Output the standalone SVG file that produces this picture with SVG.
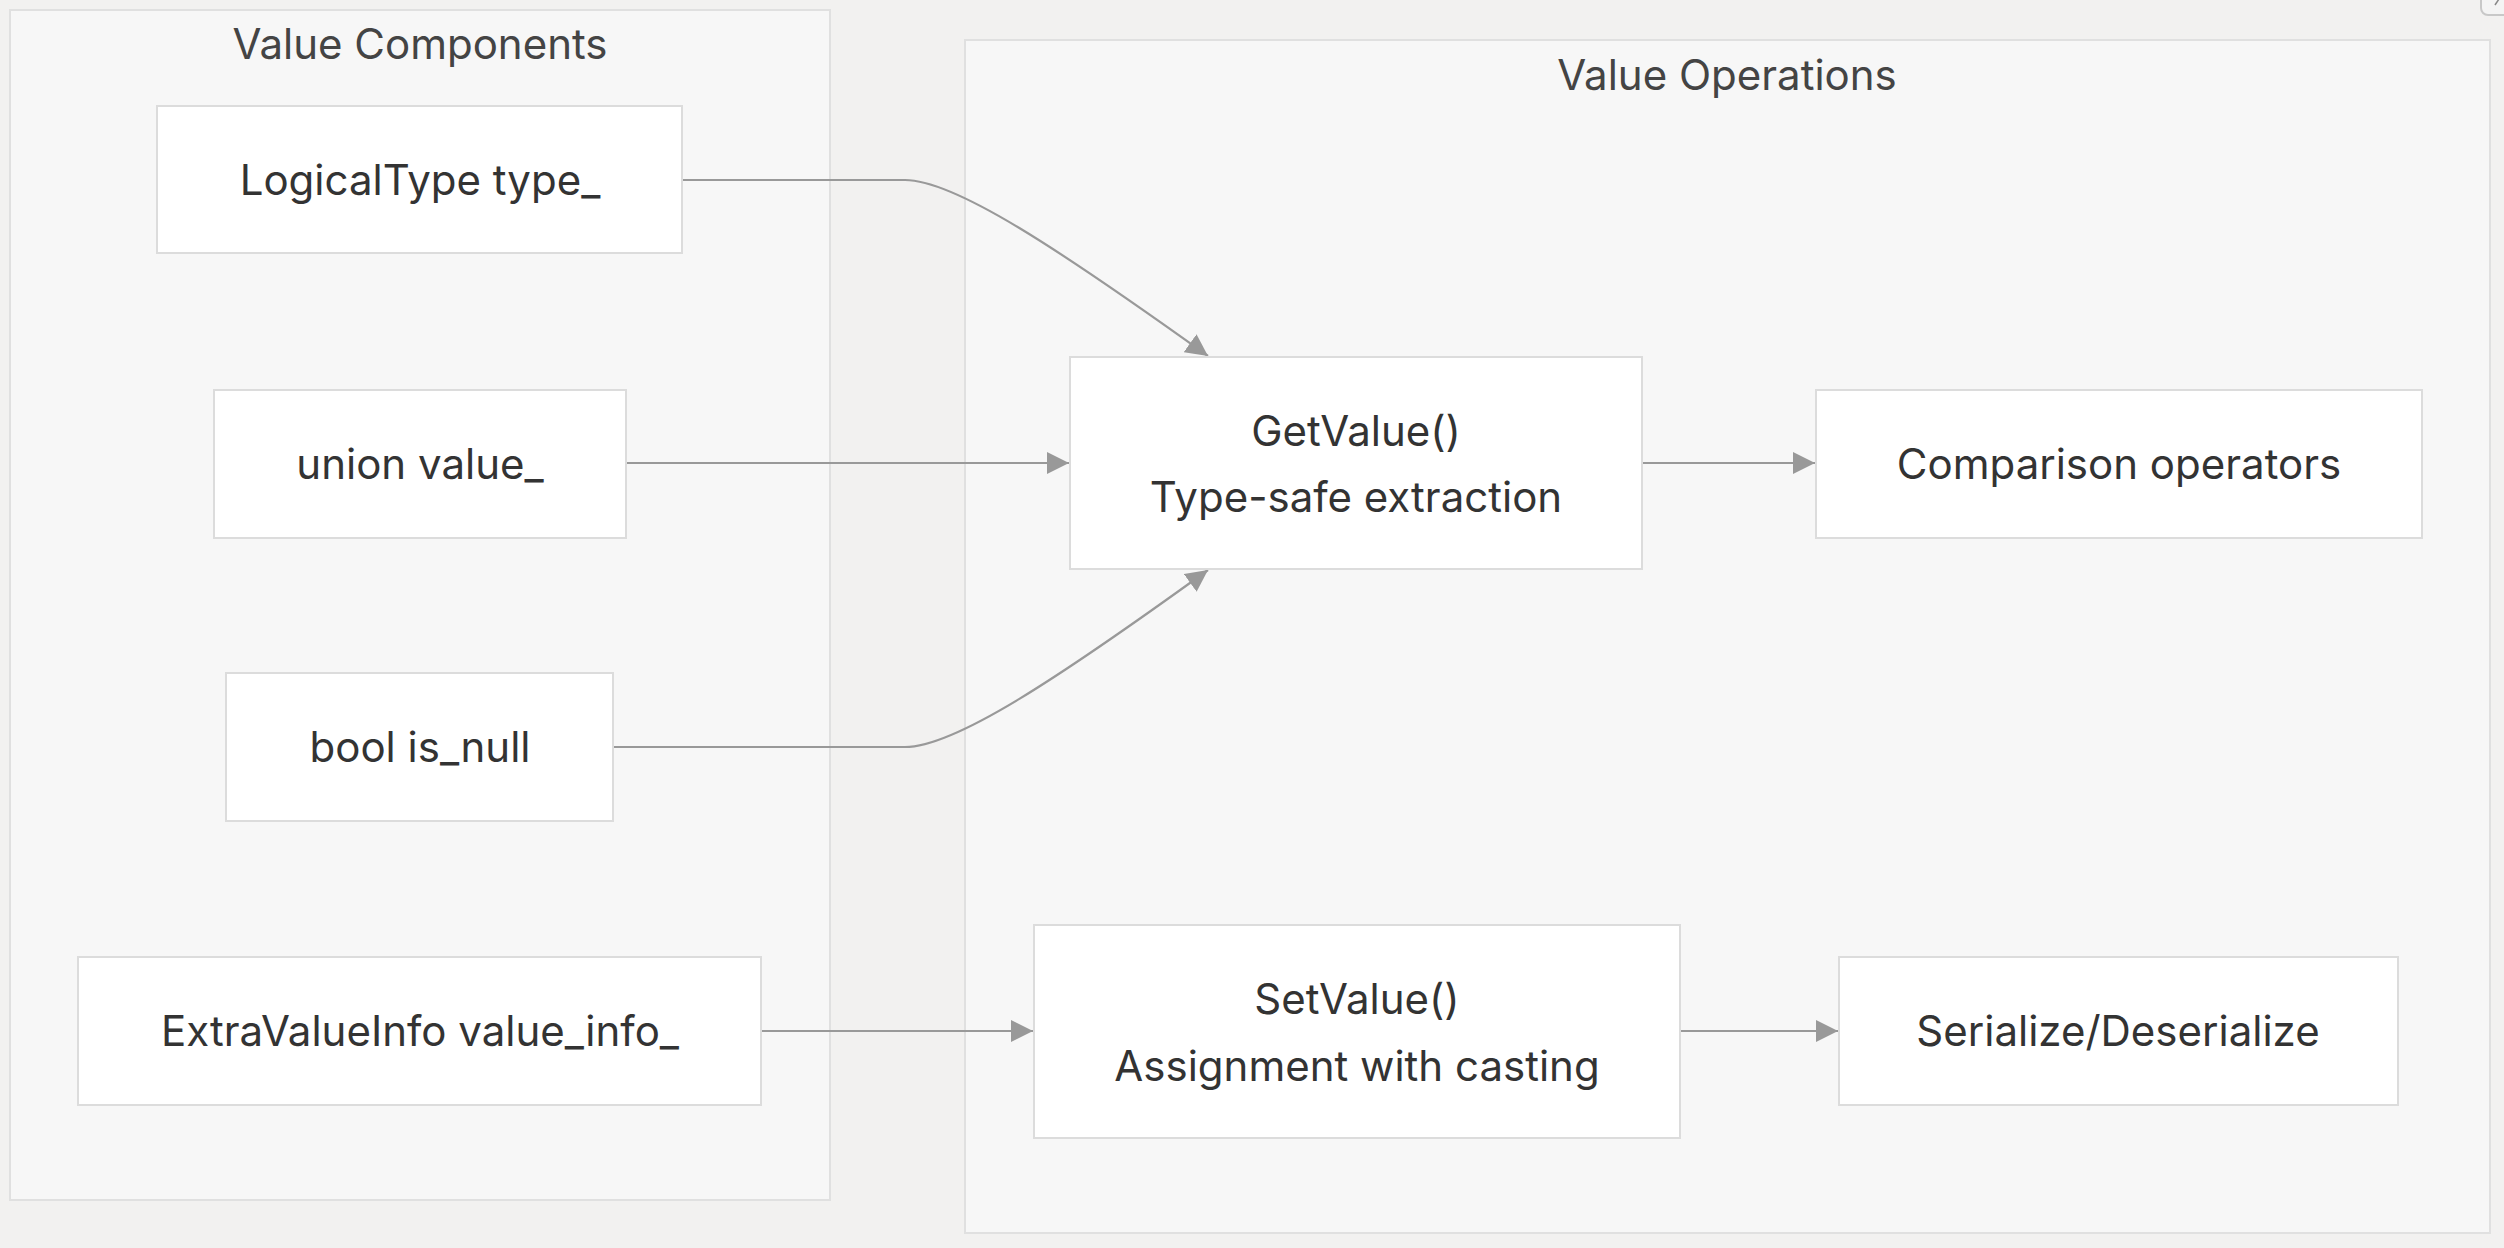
<svg xmlns="http://www.w3.org/2000/svg" width="2504" height="1248" viewBox="0 0 2504 1248">
  <style>
    .cluster { fill: #f7f7f7; stroke: #e0e0e0; stroke-width: 2; }
    .node { fill: #ffffff; stroke: #dcdcdc; stroke-width: 2; }
    .label { font-family: Inter, "Liberation Sans", sans-serif; font-size: 42px; fill: #333333; text-anchor: middle; }
    .title { font-family: Inter, "Liberation Sans", sans-serif; font-size: 42px; fill: #444444; text-anchor: middle; }
    .edge { fill: none; stroke: #999999; stroke-width: 2.2; }
  </style>
  <defs>
    <marker id="arrow" viewBox="0 0 10 10" refX="10" refY="5" markerWidth="22" markerHeight="22" markerUnits="userSpaceOnUse" orient="auto">
      <path d="M0,0 L10,5 L0,10 z" fill="#999999"/>
    </marker>
  </defs>
  <rect x="0" y="0" width="2504" height="1248" fill="#f2f1f0"/>

  <g id="cluster-components">
    <rect class="cluster" x="10" y="10" width="820" height="1190"/>
    <text class="title" x="420" y="59">Value Components</text>
  </g>
  <g id="cluster-operations">
    <rect class="cluster" x="965" y="40" width="1525" height="1193"/>
    <text class="title" x="1727" y="90">Value Operations</text>
  </g>

  <g id="edges">
    <path class="edge" d="M682,180 L905,180 C955,180 1060,250 1208,356" marker-end="url(#arrow)"/>
    <path class="edge" d="M626,463 L1069,463" marker-end="url(#arrow)"/>
    <path class="edge" d="M613,747 L905,747 C955,747 1060,677 1208,570" marker-end="url(#arrow)"/>
    <path class="edge" d="M1642,463 L1815,463" marker-end="url(#arrow)"/>
    <path class="edge" d="M761,1031 L1033,1031" marker-end="url(#arrow)"/>
    <path class="edge" d="M1680,1031 L1838,1031" marker-end="url(#arrow)"/>
  </g>

  <g id="node-logicaltype">
    <rect class="node" x="157" y="106" width="525" height="147"/>
    <text class="label" x="420" y="195">LogicalType type_</text>
  </g>
  <g id="node-union">
    <rect class="node" x="214" y="390" width="412" height="148"/>
    <text class="label" x="420" y="479">union value_</text>
  </g>
  <g id="node-isnull">
    <rect class="node" x="226" y="673" width="387" height="148"/>
    <text class="label" x="420" y="762">bool is_null</text>
  </g>
  <g id="node-extrainfo">
    <rect class="node" x="78" y="957" width="683" height="148"/>
    <text class="label" x="420" y="1046">ExtraValueInfo value_info_</text>
  </g>
  <g id="node-getvalue">
    <rect class="node" x="1070" y="357" width="572" height="212"/>
    <text class="label" x="1356" y="446">GetValue()</text>
    <text class="label" x="1356" y="512">Type-safe extraction</text>
  </g>
  <g id="node-comparison">
    <rect class="node" x="1816" y="390" width="606" height="148"/>
    <text class="label" x="2119" y="479">Comparison operators</text>
  </g>
  <g id="node-setvalue">
    <rect class="node" x="1034" y="925" width="646" height="213"/>
    <text class="label" x="1357" y="1014">SetValue()</text>
    <text class="label" x="1357" y="1081">Assignment with casting</text>
  </g>
  <g id="node-serialize">
    <rect class="node" x="1839" y="957" width="559" height="148"/>
    <text class="label" x="2118" y="1046">Serialize/Deserialize</text>
  </g>

  <g id="corner-button">
    <rect x="2481" y="-12" width="40" height="27" rx="7" fill="#f4f4f4" stroke="#c8c8c8" stroke-width="2"/>
    <path d="M2495,5 L2499,-1" stroke="#888888" stroke-width="1.5" fill="none"/>
  </g>
</svg>
